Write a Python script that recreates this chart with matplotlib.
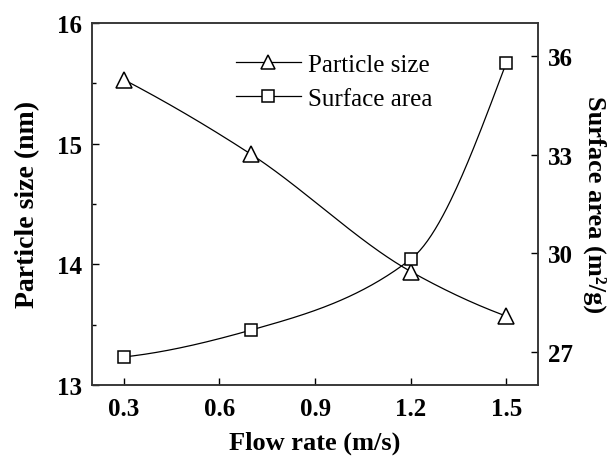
import numpy as np
import matplotlib
matplotlib.use("Agg")
import matplotlib.pyplot as plt
from matplotlib.ticker import MultipleLocator

plt.rcParams['font.family'] = ['Liberation Serif', 'DejaVu Serif']

flow_rate = [0.3, 0.7, 1.2, 1.5]
particle_size = [15.53, 14.91, 13.94, 13.57]
surface_area = [26.85, 27.67, 29.82, 35.79]


def pchip_line(x, y, n=200):
    # monotone cubic (Fritsch-Carlson), only for the smooth connecting line
    x = np.asarray(x, float); y = np.asarray(y, float)
    h = np.diff(x)
    d = np.diff(y) / h
    m = np.zeros_like(y)
    for i in range(1, len(x) - 1):
        if d[i - 1] * d[i] > 0:
            w1 = 2 * h[i] + h[i - 1]
            w2 = h[i] + 2 * h[i - 1]
            m[i] = (w1 + w2) / (w1 / d[i - 1] + w2 / d[i])
    m[0] = ((2 * h[0] + h[1]) * d[0] - h[0] * d[1]) / (h[0] + h[1])
    if np.sign(m[0]) != np.sign(d[0]):
        m[0] = 0
    m[-1] = ((2 * h[-1] + h[-2]) * d[-1] - h[-1] * d[-2]) / (h[-1] + h[-2])
    if np.sign(m[-1]) != np.sign(d[-1]):
        m[-1] = 0
    xs = np.linspace(x[0], x[-1], n)
    idx = np.clip(np.searchsorted(x, xs) - 1, 0, len(x) - 2)
    hh = h[idx]
    t = (xs - x[idx]) / hh
    h00 = 2 * t**3 - 3 * t**2 + 1
    h10 = t**3 - 2 * t**2 + t
    h01 = -2 * t**3 + 3 * t**2
    h11 = t**3 - t**2
    ys = h00 * y[idx] + h10 * hh * m[idx] + h01 * y[idx + 1] + h11 * hh * m[idx + 1]
    return xs, ys


fig = plt.figure(figsize=(6.13, 4.6), dpi=100)
ax = fig.add_axes([0.150, 0.161, 0.728, 0.787])
ax2 = ax.twinx()

xs, ys = pchip_line(flow_rate, particle_size)
ax.plot(xs, ys, color='k', lw=0.9)
ax.plot(flow_rate, particle_size, ls='none', marker='^', ms=11,
        mfc='white', mec='k', mew=1.1)

xs, ys = pchip_line(flow_rate, surface_area)
ax2.plot(xs, ys, color='k', lw=0.9)
ax2.plot(flow_rate, surface_area, ls='none', marker='s', ms=9,
         mfc='white', mec='k', mew=1.1)

ax.set_xlim(0.2, 1.6)
ax.set_ylim(13, 16)
ax2.set_ylim(26, 37)
ax.xaxis.set_major_locator(MultipleLocator(0.3))
ax.xaxis.set_major_formatter(plt.FuncFormatter(lambda v, p: '%.1f' % v))
ax.yaxis.set_major_locator(MultipleLocator(1))
ax.yaxis.set_minor_locator(MultipleLocator(0.5))
ax2.set_yticks([27, 30, 33, 36])

for a in (ax, ax2):
    a.tick_params(direction='in', length=5, width=1, labelsize=18, pad=7)
    a.tick_params(which='minor', direction='in', length=3, width=1)
    for lab in a.get_xticklabels() + a.get_yticklabels():
        lab.set_fontweight('bold')
    for s in a.spines.values():
        s.set_linewidth(1.1)
        s.set_color('#333333')
ax.tick_params(axis='x', pad=9)

ax.set_xlabel('Flow rate (m/s)', fontsize=19, fontweight='bold', labelpad=7)
ax.set_ylabel('Particle size (nm)', fontsize=20, fontweight='bold', labelpad=12)
ax2.set_ylabel('Surface area (m²/g)', fontsize=19, fontweight='bold',
               rotation=270, labelpad=24)

h1 = plt.Line2D([], [], color='k', lw=0.9, marker='^', ms=10, mfc='white', mec='k', mew=1.1)
h2 = plt.Line2D([], [], color='k', lw=0.9, marker='s', ms=8, mfc='white', mec='k', mew=1.1)
ax.legend([h1, h2], ['Particle size', 'Surface area'], loc='upper left',
          bbox_to_anchor=(0.3, 0.943), frameon=False, fontsize=18,
          handlelength=2.6, handletextpad=0.3, labelspacing=0.45,
          borderaxespad=0)

fig.savefig('out.png', dpi=100)
